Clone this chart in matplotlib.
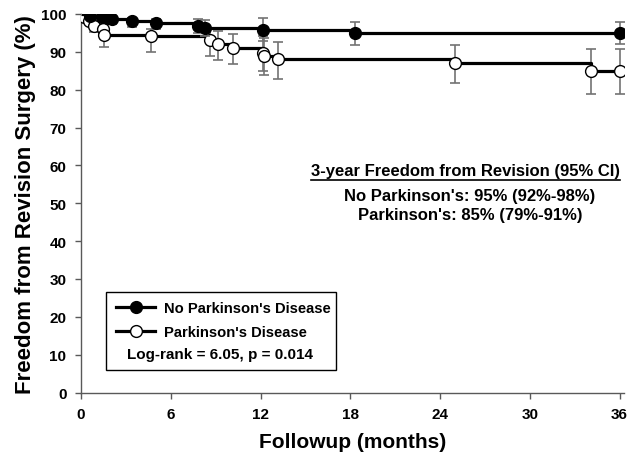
import numpy as np
import matplotlib
matplotlib.use("Agg")
import matplotlib.pyplot as plt
from matplotlib.patches import Rectangle
from matplotlib.lines import Line2D

plt.rcParams['font.family'] = ['Liberation Sans', 'DejaVu Sans']
plt.rcParams['font.weight'] = 'bold'

# ---- data ----
nopd_t = [0.6, 1.4, 1.8, 2.1, 3.4, 5.0, 7.8, 8.3, 12.2, 18.3, 36.0]
nopd_s = [99.5, 99.2, 98.9, 98.6, 98.1, 97.5, 96.9, 96.4, 95.9, 95.0, 95.0]
nopd_lo = [np.nan, np.nan, np.nan, 97.3, 96.5, 96.1, 94.9, 94.3, 92.9, 91.9, 92.0]
nopd_hi = [np.nan, np.nan, np.nan, 99.6, 98.9, 98.7, 98.7, 98.4, 98.9, 97.8, 98.0]

pd_t = [0.0, 0.2, 0.55, 0.9, 1.46, 1.57, 4.7, 8.65, 9.15, 10.15, 12.15, 12.25, 13.2, 25.0, 34.1, 36.0]
pd_s = [100.0, 99.2, 98.2, 96.9, 96.0, 94.5, 94.3, 93.0, 92.0, 91.0, 89.8, 88.8, 88.0, 87.0, 85.0, 85.0]
pd_lo = [np.nan, np.nan, np.nan, 95.2, 94.5, 91.2, 90.0, 89.0, 87.8, 86.8, 85.0, 83.9, 82.8, 81.9, 78.9, 78.9]
pd_hi = [np.nan, np.nan, np.nan, 98.5, 97.5, 98.0, 96.0, 96.0, 95.6, 94.7, 94.3, 93.6, 92.7, 91.9, 90.8, 90.8]

x_ticks = [0, 6, 12, 18, 24, 30, 36]
y_ticks = list(range(0, 101, 10))

labels = ["No Parkinson's Disease", "Parkinson's Disease"]
logrank_text = "Log-rank = 6.05, p = 0.014"
ann_title = "3-year Freedom from Revision (95% CI)"
ann_lines = ["No Parkinson's: 95% (92%-98%)", "Parkinson's: 85% (79%-91%)"]

# ---- figure ----
fig = plt.figure(figsize=(6.44, 4.56), dpi=100)
ax = fig.add_axes([81/644, 1-393.5/456, (624-81)/644, (393.5-15)/456])

def draw_series(t, s, lo, hi, face, z):
    tt = [0.0] + list(t)
    ss = [100.0] + list(s)
    ax.plot(tt, ss, drawstyle='steps-post', color='black', lw=2.3, zorder=z,
            solid_capstyle='butt')
    t_a = np.array(t); s_a = np.array(s)
    lo_a = np.array(lo); hi_a = np.array(hi)
    m = ~np.isnan(lo_a)
    ax.errorbar(t_a[m], s_a[m], yerr=[s_a[m]-lo_a[m], hi_a[m]-s_a[m]], fmt='none',
                ecolor='0.45', elinewidth=1.2, capsize=3.5, capthick=1.2, zorder=z-1)
    ax.plot(t_a, s_a, linestyle='none', marker='o', markersize=8.5,
            markerfacecolor=face, markeredgecolor='black', markeredgewidth=1.0, zorder=z+1)

draw_series(pd_t, pd_s, pd_lo, pd_hi, 'white', 4)
draw_series(nopd_t, nopd_s, nopd_lo, nopd_hi, 'black', 7)

ax.set_xlim(0, 36.3)
ax.set_ylim(0, 100)
ax.set_xticks(x_ticks)
ax.set_yticks(y_ticks)
for sp in ['top', 'right']:
    ax.spines[sp].set_visible(False)
for sp in ['left', 'bottom']:
    ax.spines[sp].set_color('0.35')
    ax.spines[sp].set_linewidth(1.0)
ax.tick_params(axis='both', direction='out', length=4.5, width=1.0, color='0.35',
               labelsize=11, pad=6)
for lab in ax.get_xticklabels() + ax.get_yticklabels():
    lab.set_fontweight('bold')
ax.set_xlabel("Followup (months)", fontsize=15, fontweight='bold', labelpad=8)
ax.set_ylabel("Freedom from Revision Surgery (%)", fontsize=16, fontweight='bold')
ax.yaxis.set_label_coords((36-81)/543, 0.5)

# legend box
def px2ax(x, y):
    return ((x-81)/(624-81)*36/36.3, (393.5-y)/(393.5-15))
x0, y0 = px2ax(106.5, 371)
x1, y1 = px2ax(338, 292.5)
ax.add_patch(Rectangle((x0, y0), x1-x0, y1-y0, transform=ax.transAxes, fill=False,
                       edgecolor='black', lw=1.0, zorder=10, clip_on=False))
handles = [Line2D([], [], color='black', lw=2.3, marker='o', markersize=8.5,
                  markerfacecolor='black', markeredgecolor='black'),
           Line2D([], [], color='black', lw=2.3, marker='o', markersize=8.5,
                  markerfacecolor='white', markeredgecolor='black')]
lx, ly = px2ax(116, 302.5)
leg = ax.legend(handles, labels, loc='upper left', bbox_to_anchor=(lx, ly),
                frameon=False, prop={'weight': 'bold', 'size': 10.6},
                handlelength=2.7, handletextpad=0.55, labelspacing=0.65,
                borderaxespad=0, borderpad=0)
tx, ty = px2ax(221, 355)
ax.text(tx, ty, logrank_text, transform=ax.transAxes, ha='center', va='center',
        fontsize=11, fontweight='bold')

# annotation
ax_t, ay_t = px2ax(469, 172)
t1 = ax.text(ax_t, ay_t, ann_title, transform=ax.transAxes, ha='center', va='center',
             fontsize=12, fontweight='bold')
a2x, a2y = px2ax(473, 197)
ax.text(a2x, a2y, ann_lines[0], transform=ax.transAxes, ha='center', va='center',
        fontsize=12, fontweight='bold')
a3x, a3y = px2ax(473, 216)
ax.text(a3x, a3y, ann_lines[1], transform=ax.transAxes, ha='center', va='center',
        fontsize=12, fontweight='bold')

fig.canvas.draw()
bb = t1.get_window_extent()
inv = fig.transFigure.inverted()
(fx0, fy0) = inv.transform((bb.x0, bb.y0 - 1))
(fx1, _) = inv.transform((bb.x1, bb.y0))
fig.add_artist(Line2D([fx0, fx1], [fy0, fy0], transform=fig.transFigure, color='black', lw=1.2))

fig.savefig("out.png", dpi=100)
